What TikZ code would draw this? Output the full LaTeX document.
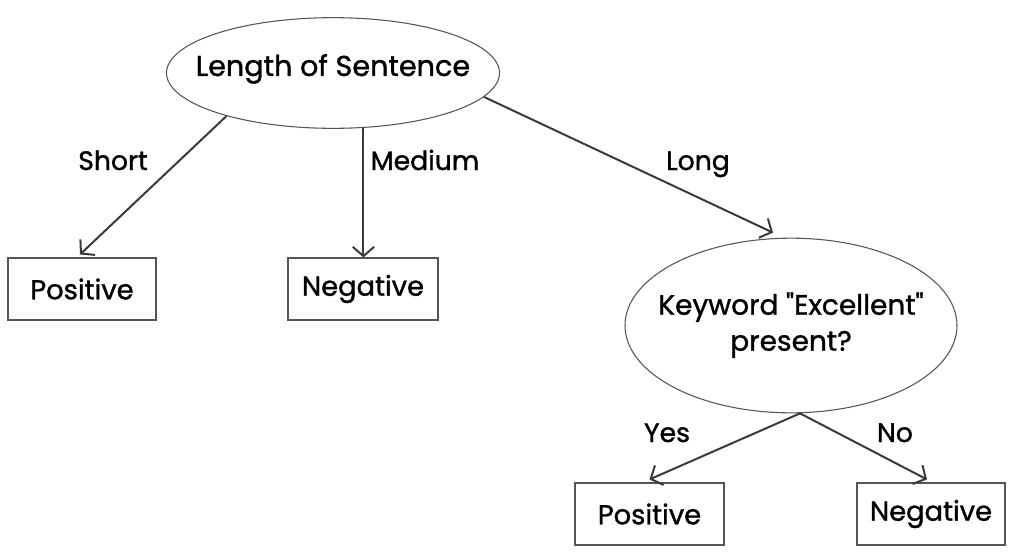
\documentclass[tikz,border=0pt]{standalone}
\usepackage{fontspec}
\setmainfont{Poppins}[Ligatures=TeXOff,FakeBold=1.2]
\usetikzlibrary{shapes.geometric,arrows.meta,calc}
\definecolor{linec}{HTML}{3A3A3A}
\definecolor{borderc}{HTML}{555555}
\begin{document}
\begin{tikzpicture}[x=0.75pt,y=-0.75pt,
  ell/.style={ellipse,draw=borderc,line width=0.8pt,inner sep=0pt},
  leaf/.style={rectangle,draw=borderc,line width=0.8pt,inner sep=0pt,font=\fontsize{20.5}{25}\selectfont},
  lab/.style={font=\fontsize{20}{24}\selectfont,inner sep=0pt,anchor=base},
  arr/.style={draw=linec,line width=1.5pt,-{Straight Barb[length=7pt,width=16pt,line width=1.5pt]}}]
\useasboundingbox (0,0) rectangle (1014,554);
\node[ell,minimum width=249.75pt,minimum height=83pt,font=\fontsize{21.5}{26}\selectfont,text depth=12pt] (len) at (333,73) {\makebox[0pt][c]{Length of Sentence}};
\node[leaf,minimum width=111pt,minimum height=46.5pt] (pos1) at (82,289) {Positive};
\node[leaf,minimum width=112.5pt,minimum height=46.5pt] (neg1) at (363,289) {Negative};
\node[ell,minimum width=249pt,minimum height=131pt,font=\fontsize{21}{27}\selectfont] (kw) at (791,325.5) {\makebox[0pt][c]{\begin{tabular}{@{}c@{}}Keyword "Excellent"\\present?\end{tabular}}};
\node[leaf,minimum width=111.75pt,minimum height=46.5pt] (pos2) at (649.5,514) {Positive};
\node[leaf,minimum width=111pt,minimum height=46.5pt] (neg2) at (931,514) {Negative};
\draw[arr] (len.202) -- ([shift={(-2,-3)}]pos1.north);
\draw[arr] (len.-61) -- (len.-61 |- neg1.north);
\draw[arr] (len.-9) -- ([shift={(-18,-5)}]kw.north);
\draw[arr] ([shift={(9,0)}]kw.south) -- ([shift={(0,-3)}]pos2.north);
\draw[arr] ([shift={(9,0)}]kw.south) -- ([shift={(-4,-3)}]neg2.north);
\node[lab] (lshort) at (113,170) {Short};
\node[lab] (lmed) at (425,170) {Medium};
\node[lab] (llong) at (698,170) {Long};
\node[lab] (lyes) at (667,442) {Yes};
\node[lab] (lno) at (895,442) {No};
\end{tikzpicture}
\end{document}
